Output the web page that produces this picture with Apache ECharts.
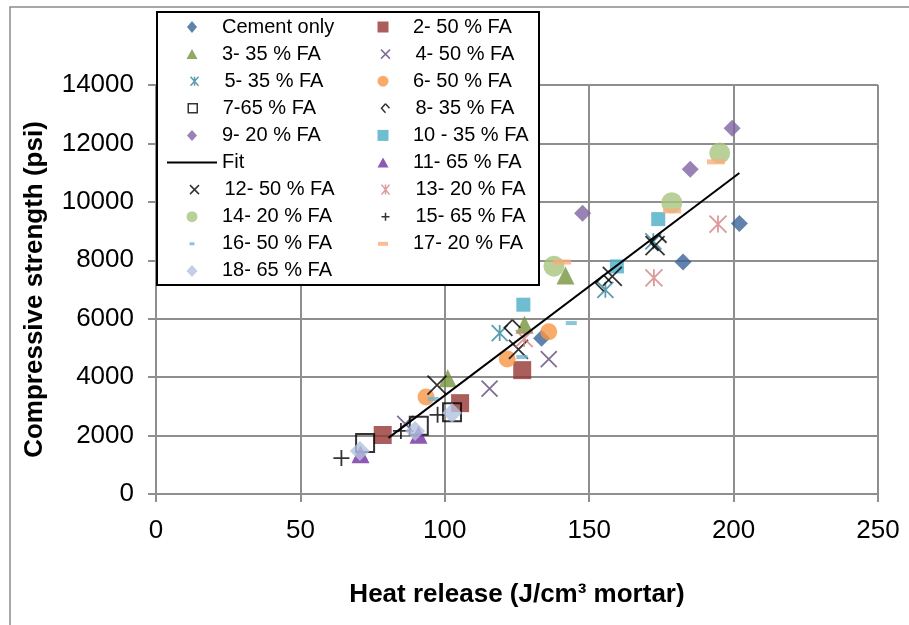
<!DOCTYPE html>
<html>
<head>
<meta charset="utf-8">
<script src="https://cdn.jsdelivr.net/npm/echarts@6/dist/echarts.min.js"></script>
<style>html,body{margin:0;padding:0;background:#fff}#c{width:909px;height:625px}</style>
</head>
<body>
<div id="c"></div>
<script>
// ---- data (heat release J/cm3, compressive strength psi) ----
const xTicks = [0, 50, 100, 150, 200, 250];
const yTicks = [0, 2000, 4000, 6000, 8000, 10000, 12000, 14000];
const s01 = [[133.5,5330],[182.5,7940],[202,9260]];
const s02 = [[78.5,2020],[105.3,3110],[126.8,4240]];
const s03 = [[101,3960],[127.6,5790],[141.8,7480]];
const s04 = [[86.3,2400],[115.5,3610],[136,4620]];
const s05 = [[119,5510],[155.6,6990],[172.2,8650]];
const s06 = [[93.5,3320],[121.6,4625],[136,5550]];
const s07 = [[72.4,1745],[91,2340],[102.5,2800]];
const s08 = [[123.4,5690],[155,7220],[174,8600]];
const s09 = [[147.7,9610],[185,11120],[199.5,12520]];
const s10 = [[127.2,6480],[159.6,7790],[173.9,9410]];
const fit = [[80.5,1920],[202,10990]];
const s11 = [[70.8,1360],[90.9,2030]];
const s12 = [[97.3,3730],[125.5,4950],[158,7450],[172.8,8500]];
const s13 = [[127.5,5320],[172.4,7400],[194.6,9240]];
const s14 = [[137.8,7800],[178.6,9970],[195.2,11670]];
const s15 = [[64.2,1230],[84.8,2160],[97.5,2710]];
const s16 = [[96,3250],[126.7,4690],[143.8,5850]];
const s17 = [[140.6,7940],[178.7,9690],[193.9,11370]];
const s18 = [[70.6,1470],[89.7,2160],[102.5,2770]];
const names = ['Cement only','2- 50 % FA','3- 35 % FA','4- 50 % FA','5- 35 % FA','6- 50 % FA',
  '7-65 % FA','8- 35 % FA','9- 20 % FA','10 - 35 % FA','Fit','11- 65 % FA','12- 50 % FA',
  '13- 20 % FA','14- 20 % FA','15- 65 % FA','16- 50 % FA','17- 20 % FA','18- 65 % FA'];
const leftCol = ['Cement only','3- 35 % FA','5- 35 % FA','7-65 % FA','9- 20 % FA','Fit','12- 50 % FA','14- 20 % FA','16- 50 % FA','18- 65 % FA'];
const rightCol = ['2- 50 % FA','4- 50 % FA','6- 50 % FA','8- 35 % FA','10 - 35 % FA','11- 65 % FA','13- 20 % FA','15- 65 % FA','17- 20 % FA'];

// ---- styles ----
const P_X = 'path://M0,0L10,10M10,0L0,10';
const P_AST = 'path://M0,0L10,10M10,0L0,10M5,0L5,10';
const P_PLUS = 'path://M5,0L5,10M0,5L10,5';
const P_CHEV = 'path://M5,0L0,5L5,10M5,0L10,5';
const styles = {
  'Cement only': {d:s01, sym:'diamond', size:17, c:'#3A6398', lg:[10,12]},
  '2- 50 % FA': {d:s02, sym:'rect', size:18, c:'#953735', lg:[11,11]},
  '3- 35 % FA': {d:s03, sym:'triangle', size:18, c:'#77933C', lg:[11,10]},
  '4- 50 % FA': {d:s04, sym:P_X, size:16, c:'#604A7B', stroke:true, lg:[9,9]},
  '5- 35 % FA': {d:s05, sym:P_AST, size:16, c:'#31859C', stroke:true, lg:[8,9]},
  '6- 50 % FA': {d:s06, sym:'circle', size:17, c:'#F79646', lg:[11,11]},
  '7-65 % FA': {d:s07, sym:'rect', size:18, c:'#000000', open:true, lg:[9,9]},
  '8- 35 % FA': {d:s08, sym:P_CHEV, size:16, c:'#000000', stroke:true, lg:[8,9]},
  '9- 20 % FA': {d:s09, sym:'diamond', size:17, c:'#8064A2', lg:[10,11]},
  '10 - 35 % FA': {d:s10, sym:'rect', size:14, c:'#4BACC6', lg:[11,11]},
  '11- 65 % FA': {d:s11, sym:'triangle', size:18, c:'#7030A0', lg:[11,10]},
  '12- 50 % FA': {d:s12, sym:P_X, size:19, c:'#000000', stroke:true, lg:[9,9]},
  '13- 20 % FA': {d:s13, sym:P_AST, size:17, c:'#D27F7D', stroke:true, lg:[8,10]},
  '14- 20 % FA': {d:s14, sym:'circle', size:21, c:'#A9C47F', lg:[11,11]},
  '15- 65 % FA': {d:s15, sym:P_PLUS, size:16, c:'#000000', stroke:true, lg:[8,8]},
  '16- 50 % FA': {d:s16, sym:'rect', size:[11,4], c:'#6CB8D2', lg:[5,3]},
  '17- 20 % FA': {d:s17, sym:'rect', size:[18,5], c:'#F9AC7A', lg:[10,4]},
  '18- 65 % FA': {d:s18, sym:'diamond', size:20, c:'#B3C2DE', lg:[11,12]}
};

function itemStyleFor(st) {
  if (st.stroke) return {color:'none', borderColor:st.c, borderWidth:1.8};
  if (st.open) return {color:'rgba(255,255,255,0)', borderColor:st.c, borderWidth:2};
  return {color:st.c, borderWidth:0};
}

const series = names.map(n => {
  if (n === 'Fit') {
    return {name:n, type:'line', data:fit, symbol:'none', showSymbol:false, z:3,
      lineStyle:{color:'#000', width:2}, itemStyle:{color:'#000'}};
  }
  const st = styles[n];
  return {name:n, type:'scatter', data:st.d, symbol:st.sym, symbolSize:st.size,
    itemStyle:itemStyleFor(st), emphasis:{disabled:true}};
});

// legends: one per entry, placed in two columns (icon centre cx, text at cx+30)
const rowY0 = 27, rowH = 27.1;
const legends = [];
function addLegend(n, i, cx) {
  let w, h, icon, itemStyle;
  if (n === 'Fit') {
    w = 50; h = 2; icon = 'path://M0,0h50v2h-50z';
    itemStyle = {color:'#000', borderWidth:0};
  } else {
    const st = styles[n];
    w = st.lg[0]; h = st.lg[1];
    icon = (st.sym === 'rect' && !st.open) ? 'rect' : st.sym;
    itemStyle = itemStyleFor(st);
    if (st.stroke) itemStyle.borderWidth = 1.5;
    if (st.open) itemStyle.borderWidth = 1.5;
  }
  const left = cx - w / 2;
  const padL = (cx + 30) - (left + w + 5);
  legends.push({data:[n], orient:'horizontal', padding:0, itemGap:0, z:10,
    left:left, top: rowY0 + i*rowH - 10, itemWidth:w, itemHeight:h,
    icon:icon, itemStyle:itemStyle, selectedMode:false, symbolKeepAspect:false,
    textStyle:{fontFamily:'Liberation Sans, Arial, sans-serif', fontSize:20, color:'#000',
      lineHeight:20, padding:[0,0,0,padL]}});
}
leftCol.forEach((n,i) => addLegend(n, i, 192));
rightCol.forEach((n,i) => addLegend(n, i, 383));

const chart = echarts.init(document.getElementById('c'), null, {renderer:'canvas'});
const gridCol = '#8E8E8E';
const FF = 'Liberation Sans, Arial, sans-serif';
chart.setOption({
  animation:false,
  backgroundColor:'#fff',
  textStyle:{fontFamily:FF},
  grid:{left:156, right:31, top:85, bottom:131, containLabel:false},
  xAxis:{type:'value', min:xTicks[0], max:xTicks[xTicks.length-1], interval:50,
    name:'Heat release (J/cm³ mortar)', nameLocation:'middle', nameGap:88,
    nameTextStyle:{fontSize:26, fontWeight:'bold', color:'#000', fontFamily:FF},
    axisLine:{lineStyle:{color:gridCol, width:2}},
    axisTick:{show:true, length:8, inside:false, lineStyle:{color:gridCol, width:2}},
    axisLabel:{fontSize:26, color:'#000', margin:24, fontFamily:FF, formatter: v => String(v)},
    splitLine:{show:true, lineStyle:{color:gridCol, width:2}}},
  yAxis:{type:'value', min:yTicks[0], max:yTicks[yTicks.length-1], interval:2000,
    name:'Compressive strength (psi)', nameLocation:'middle', nameGap:108,
    nameTextStyle:{fontSize:26, fontWeight:'bold', color:'#000', fontFamily:FF},
    axisLine:{show:true, lineStyle:{color:gridCol, width:2}},
    axisTick:{show:true, length:8, inside:false, lineStyle:{color:gridCol, width:2}},
    axisLabel:{fontSize:26, color:'#000', margin:22, fontFamily:FF, formatter: v => String(v)},
    splitLine:{show:true, lineStyle:{color:gridCol, width:2}}},
  legend: legends,
  graphic:[
    {type:'rect', z:0, silent:true, shape:{x:10, y:7, width:1000, height:700},
      style:{fill:'none', stroke:'#8c8c8c', lineWidth:1.5}},
    {type:'rect', z:8, silent:true, shape:{x:157, y:12, width:382, height:273},
      style:{fill:'#fff', stroke:'#000', lineWidth:2}}
  ],
  series: series
});
</script>
</body>
</html>
